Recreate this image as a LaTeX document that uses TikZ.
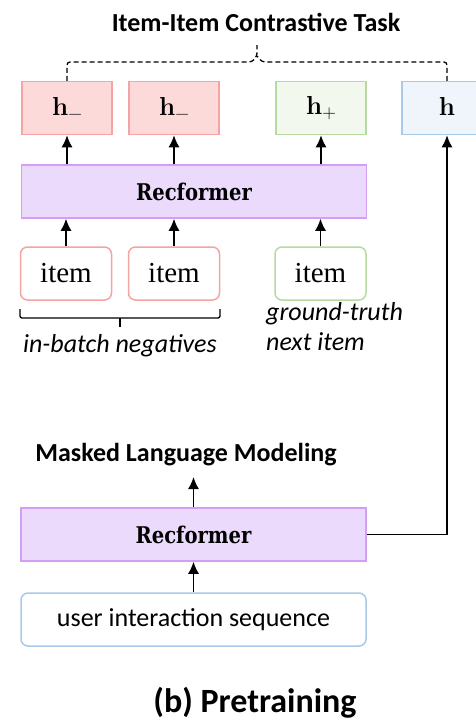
\documentclass[tikz,border=0pt]{standalone}
\usepackage[no-math]{fontspec}
\setmainfont{Carlito}
\newfontfamily\slabfont{DejaVu Serif}[FakeStretch=0.85]
\newfontfamily\itemfont{Liberation Serif}
\newfontfamily\lmfont{Latin Modern Roman}
\usetikzlibrary{arrows.meta}
% bold vector h with an optional lowered sign
\newcommand\hvec[1]{{\lmfont\bfseries h}\raisebox{-4pt}{\lmfont\fontsize{19}{20}\selectfont #1}}
\definecolor{negfill}{HTML}{FDDADA}
\definecolor{negline}{HTML}{F5A3A3}
\definecolor{posfill}{HTML}{F3F8EE}
\definecolor{posline}{HTML}{B6DA9F}
\definecolor{seqfill}{HTML}{EFF5FB}
\definecolor{seqline}{HTML}{A9C9E9}
\definecolor{recfill}{HTML}{ECDAFC}
\definecolor{recline}{HTML}{D49DF6}
\tikzset{
  box/.style={draw, line width=1.5pt, minimum height=53pt, inner sep=0pt},
  hbox/.style={box, minimum width=90pt, font=\fontsize{26}{30}\selectfont},
  recbox/.style={box, draw=recline, fill=recfill, minimum width=345pt,
    font=\slabfont\bfseries\fontsize{23}{27}\selectfont},
  itembox/.style={box, rounded corners=7pt, fill=white, minimum width=91pt,
    font=\itemfont\fontsize{29}{32}\selectfont},
  arr/.style={line width=1.5pt, -{Latex[length=12pt,width=11pt]}},
  groupline/.style={line width=1.3pt, dash pattern=on 5pt off 3pt},
  lbl/.style={font=\bfseries\fontsize{26}{30}\selectfont, inner sep=0pt},
  note/.style={font=\itshape\fontsize{26}{30}\selectfont, inner sep=0pt, align=left},
}
\begin{document}
\begin{tikzpicture}[x=1pt, y=-1pt]
\useasboundingbox (0,0) rectangle (476,721);

% task title
\node[lbl] (task) at (256,22) {Item-Item Contrastive Task};

% representation boxes
\node[hbox, draw=negline, fill=negfill] (h1) at (67,108) {\hvec{−}};
\node[hbox, draw=negline, fill=negfill] (h2) at (174,108) {\hvec{−}};
\node[hbox, draw=posline, fill=posfill] (hp) at (321,108) {\hvec{+}};
\node[hbox, draw=seqline, fill=seqfill] (hh) at (447,108) {\hvec{}};

% item encoder
\node[recbox] (rec1) at (194,191.5) {Recformer};

% items
\node[itembox, draw=negline] (i1) at (66,273.5) {item};
\node[itembox, draw=negline] (i2) at (174,273.5) {item};
\node[itembox, draw=posline] (i3) at (320.5,273.5) {item};

% arrows items -> encoder -> representations
\foreach \a/\b in {h1/i1, h2/i2, hp/i3}{
  \draw[arr] (\b.north) -- (\b |- rec1.south);
  \draw[arr] (\a |- rec1.north) -- (\a.south);
}

% dashed grouping to the contrastive task
\coordinate (tip) at (257,45);
\draw[groupline, rounded corners=3pt] (h1.north) -- (67,62) -- (252,62) -- (257,56) -- (tip);
\draw[groupline, rounded corners=3pt] (hh.north) -- (447,62) -- (262,62) -- (257,56);

% brace under the negatives
\draw[line width=1.3pt, rounded corners=2pt] (20,309) -- (20,318) -- (220,318) -- (220,309);
\draw[line width=1.3pt] (120,318) -- (120,327);
\node[note, anchor=north] (neg) at (120,334) {in-batch negatives};
\node[note, anchor=north west] (gt) at (266,302) {ground-truth\\next item};

% sequence branch
\node[lbl] (mlm) at (186,455) {Masked Language Modeling};
\node[recbox] (rec2) at (193.5,534.5) {Recformer};
\node[itembox, draw=seqline, minimum width=345pt,
      font=\fontsize{26}{30}\selectfont] (seq) at (193.5,619.5) {user interaction sequence};
\coordinate (mlmin) at (193.5,477);
\draw[arr] (seq.north) -- (rec2.south);
\draw[arr] (rec2.north) -- (mlmin);
\draw[arr] (rec2.east) -| (hh.south);

% caption
\node[font=\bfseries\fontsize{34}{38}\selectfont] (cap) at (255,703) {(b) Pretraining};
\end{tikzpicture}
\end{document}
